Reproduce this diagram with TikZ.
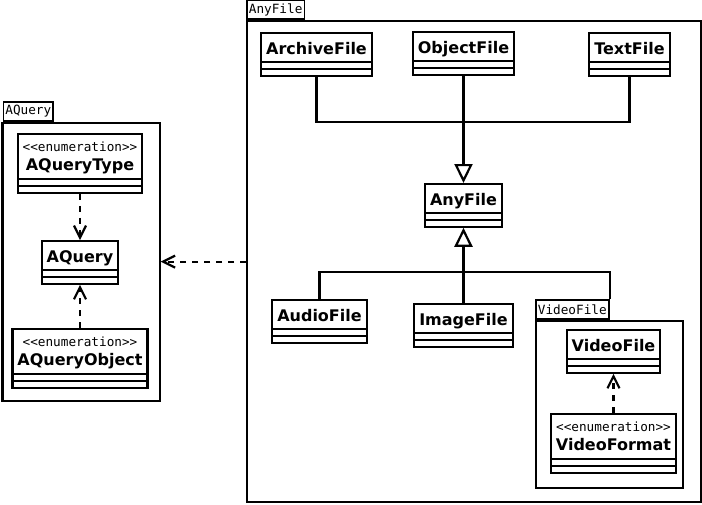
\documentclass[tikz,border=0pt]{standalone}
\usepackage{fontspec}
\usepackage{tikz}
\usetikzlibrary{shapes.multipart,arrows.meta}
\newfontfamily\classfont{DejaVu Sans}
\newfontfamily\pkgfont{DejaVu Sans Mono}
\newcommand{\classname}[1]{\rule[-7pt]{0pt}{27pt}#1}
\newcommand{\enumname}[1]{{\renewcommand{\arraystretch}{0}%
  \begin{tabular}{@{}c@{}}\rule[-2pt]{0pt}{18pt}{\pkgfont\mdseries\fontsize{12.7}{15}\selectfont <{}<enumeration>{}>}\\
  \rule[-8pt]{0pt}{25pt}#1\end{tabular}}}
\tikzset{
  umlclass/.style={rectangle split, rectangle split parts=3, draw, line width=2.2pt,
    inner xsep=5pt, inner ysep=0pt, anchor=north, fill=white,
    rectangle split empty part height=4.5pt, rectangle split empty part depth=0pt,
    font=\classfont\bfseries\fontsize{16}{19}\selectfont},
  pkgbody/.style={draw, line width=2.2pt, inner sep=0pt, anchor=north west},
  pkgtab/.style={draw, line width=1.8pt, inner xsep=2pt, inner ysep=0pt, minimum height=19pt,
    anchor=south west, font=\pkgfont\fontsize{12.7}{15}\selectfont},
  assoc/.style={line width=2.2pt},
  generalize/.style={line width=2.2pt, -{Triangle[open, length=19pt, width=18pt]}},
  trunk/.style={line width=3.5pt, shorten >=19pt},
  depend/.style={line width=2.2pt, dash pattern=on 6pt off 6pt, -{Straight Barb[length=12pt, width=12pt]}}
}
\begin{document}
\begin{tikzpicture}[x=1pt,y=-1pt]
\useasboundingbox (0,0) rectangle (702,504);

% packages
\node[pkgbody, minimum width=454pt, minimum height=481pt] (anyfile-pkg) at (246,20) {};
\node[pkgtab] (anyfile-tab) at (anyfile-pkg.north west) {AnyFile};
\node[pkgbody, minimum width=157pt, minimum height=278pt] (aquery-pkg) at (1.5,122) {};
\node[pkgtab] (aquery-tab) at ([xshift=1pt]aquery-pkg.north west) {AQuery};
\node[pkgbody, minimum width=147pt, minimum height=167pt] (videofile-pkg) at (535,320) {};
\node[pkgtab] (videofile-tab) at (videofile-pkg.north west) {VideoFile};

% classes
\node[umlclass] (archivefile) at (316.5,32) {\classname{ArchiveFile}\nodepart{two}\nodepart{three}};
\node[umlclass] (objectfile) at (463.5,31) {\classname{ObjectFile}\nodepart{two}\nodepart{three}};
\node[umlclass] (textfile) at (629.5,32) {\classname{TextFile}\nodepart{two}\nodepart{three}};
\node[umlclass] (anyfile) at (463.5,183) {\classname{AnyFile}\nodepart{two}\nodepart{three}};
\node[umlclass] (audiofile) at (319.5,299) {\classname{AudioFile}\nodepart{two}\nodepart{three}};
\node[umlclass] (imagefile) at (463.5,303) {\classname{ImageFile}\nodepart{two}\nodepart{three}};
\node[umlclass] (videofile) at (613.5,329) {\classname{VideoFile}\nodepart{two}\nodepart{three}};
\node[umlclass] (videoformat) at (613.5,413) {\enumname{VideoFormat}\nodepart{two}\nodepart{three}};
\node[umlclass] (aquerytype) at (80,133) {\enumname{AQueryType}\nodepart{two}\nodepart{three}};
\node[umlclass] (aquery) at (80,240) {\classname{AQuery}\nodepart{two}\nodepart{three}};
\node[umlclass] (aqueryobject) at (80,328) {\enumname{AQueryObject}\nodepart{two}\nodepart{three}};

% generalizations
\coordinate (hubtop) at (463.5,122);
\coordinate (hubbot) at (463.5,272);
\draw[assoc] (archivefile.south) |- (hubtop);
\draw[assoc] (textfile.south) |- (hubtop);
\draw[generalize] (objectfile.south) -- (anyfile.north);
\draw[trunk] (hubtop) -- (anyfile.north);
\draw[generalize] (imagefile.north) -- (anyfile.south);
\draw[trunk] (hubbot) -- (anyfile.south);
\draw[assoc] (audiofile.north) |- (hubbot);
\draw[assoc] (videofile-tab.north east) |- (hubbot);

% dependencies
\draw[depend] (aquerytype.south) -- (aquery.north);
\draw[depend] (aqueryobject.north) -- (aquery.south);
\draw[depend] (videoformat.north) -- (videofile.south);
\draw[depend] (anyfile-pkg.west) -- (aquery-pkg.east |- anyfile-pkg.west);
\end{tikzpicture}
\end{document}
